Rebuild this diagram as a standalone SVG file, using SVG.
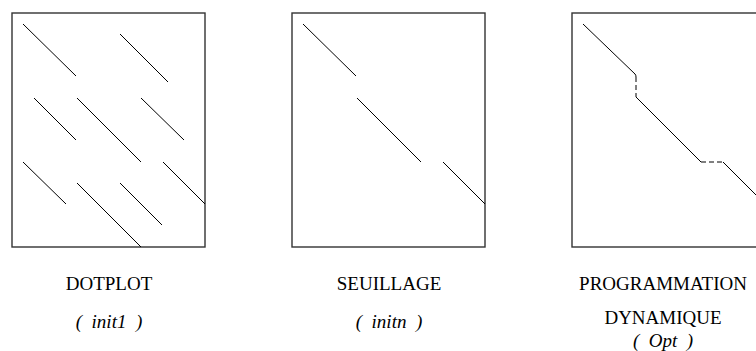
<svg xmlns="http://www.w3.org/2000/svg" width="756" height="351" viewBox="0 0 756 351">
<style>
.box{fill:none;stroke:#333;stroke-width:1.4}
.seg{stroke:#000;stroke-width:1;fill:none}
.dash{stroke:#000;stroke-width:1;fill:none;stroke-dasharray:5 3}
.lbl{font-family:"Liberation Serif","Times New Roman",serif;font-size:19px;fill:#000;text-anchor:middle}
.it{font-style:italic;white-space:pre}
</style>
<rect width="756" height="351" fill="#fff"/>
<g id="dotplot">
<rect class="box" x="12" y="13" width="193" height="234"/>
<line class="seg" x1="23" y1="24" x2="76" y2="76"/>
<line class="seg" x1="120" y1="34" x2="168" y2="82"/>
<line class="seg" x1="34" y1="98" x2="76" y2="140"/>
<line class="seg" x1="77" y1="98" x2="141" y2="162"/>
<line class="seg" x1="141" y1="98" x2="184" y2="140"/>
<line class="seg" x1="23" y1="162" x2="66" y2="204"/>
<line class="seg" x1="77" y1="183" x2="141" y2="247"/>
<line class="seg" x1="120" y1="183" x2="162" y2="225"/>
<line class="seg" x1="163" y1="162" x2="205" y2="204"/>
<text class="lbl" x="109" y="290">DOTPLOT</text>
<text class="lbl it" x="109" y="328">(  init1  )</text>
</g>
<g id="seuillage">
<rect class="box" x="292" y="13" width="193" height="234"/>
<line class="seg" x1="303" y1="24" x2="356" y2="76"/>
<line class="seg" x1="357" y1="98" x2="421" y2="162"/>
<line class="seg" x1="443" y1="162" x2="485" y2="204"/>
<text class="lbl" x="389" y="290">SEUILLAGE</text>
<text class="lbl it" x="389" y="328">(  initn  )</text>
</g>
<g id="programmation">
<rect class="box" x="572" y="13" width="193" height="234"/>
<path class="seg" d="M583,24 L635,74 Q636,75 636,77"/>
<line class="dash" x1="636" y1="77" x2="636" y2="97"/>
<path class="seg" d="M636,97 L701,162"/>
<line class="dash" x1="701" y1="162" x2="723" y2="162"/>
<path class="seg" d="M723,162 L765,204"/>
<text class="lbl" x="663" y="290">PROGRAMMATION</text>
<text class="lbl" x="663" y="324">DYNAMIQUE</text>
<text class="lbl it" x="663" y="347">(  Opt  )</text>
</g>
</svg>
